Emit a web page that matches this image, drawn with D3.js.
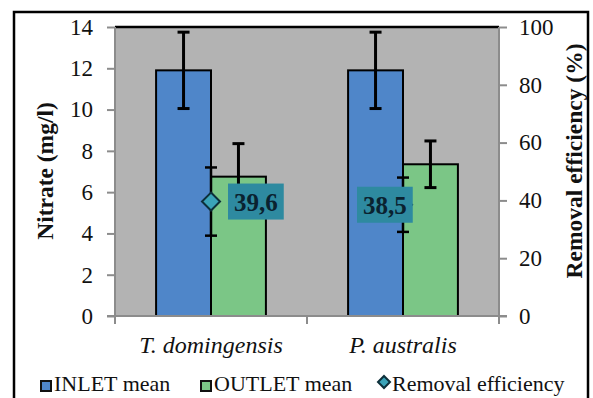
<!DOCTYPE html>
<html>
<head>
<meta charset="utf-8">
<script src="https://cdn.jsdelivr.net/npm/d3@7"></script>
</head>
<body style="margin:0;background:#fff">
<svg id="s" width="593" height="398" style="display:block"></svg>
<script>
// Nitrate removal by two wetland plant species
const categories = ["T. domingensis", "P. australis"];
const inletMean = [11.9, 11.9];
const inletErr = [1.85, 1.85];
const outletMean = [6.75, 7.35];
const outletErr = [1.6, 1.13];
const removalEff = [39.6, 38.5];
const removalErr = [11.8, 9.4];
const leftTicks = [0, 2, 4, 6, 8, 10, 12, 14];
const rightTicks = [0, 20, 40, 60, 80, 100];
const legendLabels = ["INLET mean", "OUTLET mean", "Removal efficiency"];

const FONT = "Liberation Serif";
const colors = { inlet: "#4f86c9", outlet: "#7bc686", plot: "#b3b3b3", label: "#2e8aa0", diamond: "#3aa3b8", text: "#111" };

const svg = d3.select("#s");
const m = { left: 115, right: 499, top: 27, bottom: 316 };

// serif text helper
function txt(parent, size, opts = {}) {
  const t = parent.append("text").style("font-family", FONT).attr("font-size", size);
  if (opts.bold) t.attr("font-weight", "bold");
  if (opts.italic) t.attr("font-style", "italic");
  return t;
}

// outer frame
svg.append("rect").attr("x", 14).attr("y", 12).attr("width", 574).attr("height", 392)
  .attr("fill", "#fff").attr("stroke", "#000").attr("stroke-width", 2.5);

const x = d3.scaleBand().domain(categories).range([m.left, m.right]);
const yL = d3.scaleLinear().domain([0, 14]).range([m.bottom, m.top]);
const yR = d3.scaleLinear().domain([0, 100]).range([m.bottom, m.top]);
const barW = x.bandwidth() * 0.286;

// plot area
svg.append("rect").attr("x", m.left).attr("y", m.top).attr("width", m.right - m.left).attr("height", m.bottom - m.top)
  .attr("fill", colors.plot);
svg.append("line").attr("x1", m.left).attr("x2", m.right).attr("y1", m.top).attr("y2", m.top)
  .attr("stroke", "#000").attr("stroke-width", 2.5);

// bars
const g = svg.append("g");
categories.forEach((c, i) => {
  const cx = x(c) + x.bandwidth() / 2;
  g.append("rect").attr("x", cx - barW).attr("y", yL(inletMean[i])).attr("width", barW)
    .attr("height", yL(0) - yL(inletMean[i])).attr("fill", colors.inlet).attr("stroke", "#000").attr("stroke-width", 2);
  g.append("rect").attr("x", cx).attr("y", yL(outletMean[i])).attr("width", barW)
    .attr("height", yL(0) - yL(outletMean[i])).attr("fill", colors.outlet).attr("stroke", "#000").attr("stroke-width", 2);
});

function errorBar(cx, y0, y1, cap, w) {
  g.append("line").attr("x1", cx).attr("x2", cx).attr("y1", y0).attr("y2", y1).attr("stroke", "#000").attr("stroke-width", w);
  [y0, y1].forEach(yy => g.append("line").attr("x1", cx - cap).attr("x2", cx + cap).attr("y1", yy).attr("y2", yy)
    .attr("stroke", "#000").attr("stroke-width", w));
}

categories.forEach((c, i) => {
  const cx = x(c) + x.bandwidth() / 2;
  errorBar(cx - barW / 2, yL(inletMean[i] + inletErr[i]), yL(inletMean[i] - inletErr[i]), 6, 3);
  errorBar(cx + barW / 2, yL(outletMean[i] + outletErr[i]), yL(outletMean[i] - outletErr[i]), 6, 3);
});

// axes
const axisColor = "#8c8c8c";
const axL = svg.append("g").attr("transform", `translate(${m.left},0)`)
  .call(d3.axisLeft(yL).tickValues(leftTicks).tickSize(8).tickPadding(14));
const axR = svg.append("g").attr("transform", `translate(${m.right},0)`)
  .call(d3.axisRight(yR).tickValues(rightTicks).tickSize(8).tickPadding(12));
const axB = svg.append("g").attr("transform", `translate(0,${m.bottom})`)
  .call(d3.axisBottom(x).tickValues([]).tickSizeOuter(0));
// category separator ticks
const sepTicks = [m.left, x(categories[1]), m.right];
sepTicks.forEach(t => axB.append("line").attr("x1", t).attr("x2", t).attr("y1", 0).attr("y2", 8)
  .attr("stroke", axisColor).attr("stroke-width", 2));
[axL, axR, axB].forEach(a => {
  a.attr("font-family", null).attr("font-size", null);
  a.select(".domain").attr("stroke", axisColor).attr("stroke-width", 2);
  a.selectAll(".tick line").attr("stroke", axisColor).attr("stroke-width", 2);
  a.selectAll("text").style("font-family", FONT).attr("font-size", 23).attr("fill", colors.text);
});
axL.select(".domain").attr("d", `M0,${m.top}V${m.bottom}`);
axR.select(".domain").attr("d", `M0,${m.top}V${m.bottom}`);
axB.select(".domain").attr("d", `M${m.left - 8},0H${m.right + 8}`);

// category labels
categories.forEach(c => {
  txt(svg, 24, { italic: true }).attr("x", x(c) + x.bandwidth() / 2).attr("y", 353).attr("text-anchor", "middle")
    .attr("fill", colors.text).text(c);
});

// removal efficiency points with error bars and labels
const labelOffsets = [17, -46];
categories.forEach((c, i) => {
  const cx = x(c) + x.bandwidth() / 2;
  const cy = yR(removalEff[i]);
  errorBar(cx, yR(removalEff[i] + removalErr[i]), yR(removalEff[i] - removalErr[i]), 6, 2.5);
  g.append("path").attr("d", `M${cx},${cy - 9}L${cx + 9},${cy}L${cx},${cy + 9}L${cx - 9},${cy}Z`)
    .attr("fill", colors.diamond).attr("stroke", "#0d2f3a").attr("stroke-width", 2);
  const lbl = removalEff[i].toFixed(1).replace(".", ",");
  const lx = cx + labelOffsets[i];
  const t = txt(svg, 25, { bold: true }).attr("x", lx + 6).attr("y", cy + 9).attr("fill", "#0a2230").text(lbl);
  const bb = t.node().getBBox();
  svg.insert("rect", () => t.node()).attr("x", bb.x - 6).attr("y", cy - 18).attr("width", bb.width + 12).attr("height", 36)
    .attr("fill", colors.label);
});

// axis titles
txt(svg, 23.5, { bold: true }).attr("transform", `translate(53,171) rotate(-90)`)
  .attr("text-anchor", "middle").attr("fill", colors.text).text("Nitrate (mg/l)");
txt(svg, 23.5, { bold: true }).attr("transform", `translate(582,161) rotate(-90)`)
  .attr("text-anchor", "middle").attr("fill", colors.text).text("Removal efficiency (%)");

// legend
const legend = svg.append("g");
const legendX = [40, 200, 378];
legendLabels.forEach((l, i) => {
  const lx = legendX[i];
  if (i < 2) {
    legend.append("rect").attr("x", lx + 1).attr("y", 381).attr("width", 10).attr("height", 10)
      .attr("fill", i === 0 ? colors.inlet : colors.outlet).attr("stroke", "#111").attr("stroke-width", 2);
  } else {
    legend.append("path").attr("d", `M${lx + 6},${376}L${lx + 12},${382}L${lx + 6},${388}L${lx},${382}Z`)
      .attr("fill", colors.diamond).attr("stroke", "#0d2f3a").attr("stroke-width", 2);
  }
  txt(legend, 22).attr("x", lx + 14).attr("y", 391).attr("fill", colors.text).text(l);
});
</script>
</body>
</html>
